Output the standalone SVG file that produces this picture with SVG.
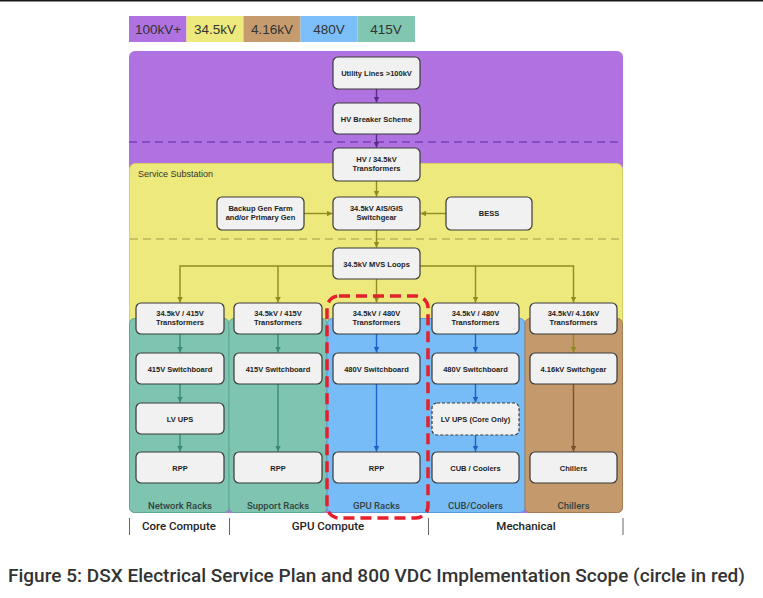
<svg xmlns="http://www.w3.org/2000/svg" width="763" height="598" viewBox="0 0 763 598">
<style>
.node rect{fill:#f1f1f1;stroke:#3a3a3a;stroke-width:1.2}
.node text{font-family:"Liberation Sans",Arial,sans-serif;font-weight:bold;font-size:7.5px;fill:#222;text-anchor:middle}
.leg{font-family:"Liberation Sans",Arial,sans-serif;font-size:13.5px;fill:#333;text-anchor:middle}
.col{font-family:Roboto,"Liberation Sans",Arial,sans-serif;font-weight:500;font-size:9.5px;fill:#33423f;text-anchor:middle}
.grp{font-family:Roboto,"Liberation Sans",Arial,sans-serif;font-size:11.5px;font-weight:500;fill:#222;text-anchor:middle}
.c{fill:none;stroke-width:1.4}
.p{stroke:#5b2a86}.y{stroke:#8f8c20}.g{stroke:#3a8c72}.b{stroke:#1c63c8}.br{stroke:#7a5030}
</style>
<defs>
<marker id="ap" viewBox="0 0 10 10" refX="10" refY="5" markerWidth="4" markerHeight="4" orient="auto"><path d="M0,0L10,5L0,10z" fill="#5b2a86"/></marker>
<marker id="ay" viewBox="0 0 10 10" refX="10" refY="5" markerWidth="4" markerHeight="4" orient="auto"><path d="M0,0L10,5L0,10z" fill="#8f8c20"/></marker>
<marker id="ag" viewBox="0 0 10 10" refX="10" refY="5" markerWidth="4" markerHeight="4" orient="auto"><path d="M0,0L10,5L0,10z" fill="#3a8c72"/></marker>
<marker id="ab" viewBox="0 0 10 10" refX="10" refY="5" markerWidth="4" markerHeight="4" orient="auto"><path d="M0,0L10,5L0,10z" fill="#1c63c8"/></marker>
<marker id="abr" viewBox="0 0 10 10" refX="10" refY="5" markerWidth="4" markerHeight="4" orient="auto"><path d="M0,0L10,5L0,10z" fill="#7a5030"/></marker>
</defs>
<rect width="763" height="598" fill="#fff"/>
<line x1="0" y1="0.8" x2="763" y2="0.8" stroke="#1a1a1a" stroke-width="1.6"/>

<g id="legend">
<rect x="129" y="16" width="57.5" height="26" fill="#b072e0"/>
<rect x="186.5" y="16" width="57" height="26" fill="#ede97c"/>
<rect x="243.5" y="16" width="57" height="26" fill="#c69c6e"/>
<rect x="300.5" y="16" width="57" height="26" fill="#7cbff8"/>
<rect x="357.5" y="16" width="57.5" height="26" fill="#80c6b0"/>
<text class="leg" x="158" y="34">100kV+</text>
<text class="leg" x="215" y="34">34.5kV</text>
<text class="leg" x="272" y="34">4.16kV</text>
<text class="leg" x="329" y="34">480V</text>
<text class="leg" x="386" y="34">415V</text>
</g>

<g id="regions">
<rect x="129" y="51" width="494" height="462" rx="6" fill="#b072e0"/>
<line x1="129" y1="142" x2="623" y2="142" stroke="#7b3fc0" stroke-width="1.5" stroke-dasharray="8 5"/>
<rect x="129.5" y="163.5" width="493" height="170" rx="6" fill="#ede97c" stroke="#d8d266" stroke-width="1"/>
<text x="138" y="177" font-family="Liberation Sans,Arial,sans-serif" font-size="9px" fill="#333">Service Substation</text>
<line x1="130" y1="239" x2="622" y2="239" stroke="#bdb55a" stroke-width="1.3" stroke-dasharray="8 5"/>
<rect x="129.5" y="318.5" width="99.5" height="194" rx="5" fill="#7fc4b0" stroke="#5fa894" stroke-width="1"/>
<rect x="229" y="318.5" width="98" height="194" rx="5" fill="#7fc4b0" stroke="#5fa894" stroke-width="1"/>
<rect x="327" y="318.5" width="198" height="194" rx="5" fill="#77bcf7" stroke="#5a9ad8" stroke-width="1"/>
<rect x="525" y="318.5" width="97.5" height="194" rx="5" fill="#c49a6c" stroke="#a87c50" stroke-width="1"/>
<text class="col" x="180" y="509">Network Racks</text>
<text class="col" x="278" y="509">Support Racks</text>
<text class="col" x="376.5" y="509">GPU Racks</text>
<text class="col" x="475.5" y="509">CUB/Coolers</text>
<text class="col" x="573.5" y="509">Chillers</text>
</g>

<g id="connectors">
<line class="c p" x1="376.5" y1="89" x2="376.5" y2="102.5" marker-end="url(#ap)"/>
<line class="c p" x1="376.5" y1="134" x2="376.5" y2="147.5" marker-end="url(#ap)"/>
<line class="c y" x1="376.5" y1="181" x2="376.5" y2="196.5" marker-end="url(#ay)"/>
<line class="c y" x1="304" y1="213.5" x2="332.5" y2="213.5" marker-end="url(#ay)"/>
<line class="c y" x1="446" y1="213.5" x2="420.5" y2="213.5" marker-end="url(#ay)"/>
<line class="c y" x1="376.5" y1="230" x2="376.5" y2="247.5" marker-end="url(#ay)"/>
<polyline class="c y" points="333,266 180,266 180,302.5" marker-end="url(#ay)"/>
<line class="c y" x1="278" y1="266" x2="278" y2="302.5" marker-end="url(#ay)"/>
<line class="c y" x1="376.5" y1="279" x2="376.5" y2="302.5" marker-end="url(#ay)"/>
<polyline class="c y" points="420,266 573.5,266 573.5,302.5" marker-end="url(#ay)"/>
<line class="c y" x1="475.5" y1="266" x2="475.5" y2="302.5" marker-end="url(#ay)"/>
<line class="c g" x1="180" y1="334" x2="180" y2="352.5" marker-end="url(#ag)"/>
<line class="c g" x1="180" y1="384" x2="180" y2="402.5" marker-end="url(#ag)"/>
<line class="c g" x1="180" y1="434" x2="180" y2="451.5" marker-end="url(#ag)"/>
<line class="c g" x1="278" y1="334" x2="278" y2="352.5" marker-end="url(#ag)"/>
<line class="c g" x1="278" y1="384" x2="278" y2="451.5" marker-end="url(#ag)"/>
<line class="c b" x1="376.5" y1="334" x2="376.5" y2="352.5" marker-end="url(#ab)"/>
<line class="c b" x1="376.5" y1="384" x2="376.5" y2="451.5" marker-end="url(#ab)"/>
<line class="c b" x1="475.5" y1="334" x2="475.5" y2="352.5" marker-end="url(#ab)"/>
<line class="c b" x1="475.5" y1="384" x2="475.5" y2="402.5" marker-end="url(#ab)"/>
<line class="c b" x1="475.5" y1="435" x2="475.5" y2="451.5" marker-end="url(#ab)"/>
<line class="c y" x1="573.5" y1="334" x2="573.5" y2="352.5" marker-end="url(#ay)"/>
<line class="c br" x1="573.5" y1="384" x2="573.5" y2="451.5" marker-end="url(#abr)"/>
</g>

<g id="n-utility" class="node"><rect x="333" y="57" width="87" height="32" rx="5"/><text x="376.5" y="76">Utility Lines &gt;100kV</text></g>
<g id="n-breaker" class="node"><rect x="333" y="103" width="87" height="31" rx="5"/><text x="376.5" y="121.5">HV Breaker Scheme</text></g>
<g id="n-hvtx" class="node"><rect x="333" y="148" width="87" height="33" rx="5"/><text x="376.5" y="162">HV / 34.5kV</text><text x="376.5" y="171">Transformers</text></g>
<g id="n-backup" class="node"><rect x="217" y="197" width="87" height="33" rx="5"/><text x="260.5" y="211">Backup Gen Farm</text><text x="260.5" y="220">and/or Primary Gen</text></g>
<g id="n-ais" class="node"><rect x="333" y="197" width="87" height="33" rx="5"/><text x="376.5" y="211">34.5kV AIS/GIS</text><text x="376.5" y="220">Switchgear</text></g>
<g id="n-bess" class="node"><rect x="446" y="197" width="86" height="33" rx="5"/><text x="489" y="216">BESS</text></g>
<g id="n-mvs" class="node"><rect x="333" y="248" width="87" height="31" rx="5"/><text x="376.5" y="266.5">34.5kV MVS Loops</text></g>

<g id="n-tx1" class="node"><rect x="136" y="303" width="88" height="31" rx="5"/><text x="180" y="316">34.5kV / 415V</text><text x="180" y="325">Transformers</text></g>
<g id="n-tx2" class="node"><rect x="234" y="303" width="88" height="31" rx="5"/><text x="278" y="316">34.5kV / 415V</text><text x="278" y="325">Transformers</text></g>
<g id="n-tx3" class="node"><rect x="333" y="303" width="87" height="31" rx="5"/><text x="376.5" y="316">34.5kV / 480V</text><text x="376.5" y="325">Transformers</text></g>
<g id="n-tx4" class="node"><rect x="432" y="303" width="87" height="31" rx="5"/><text x="475.5" y="316">34.5kV / 480V</text><text x="475.5" y="325">Transformers</text></g>
<g id="n-tx5" class="node"><rect x="530" y="303" width="87" height="31" rx="5"/><text x="573.5" y="316">34.5kV/ 4.16kV</text><text x="573.5" y="325">Transformers</text></g>

<g id="n-sb1" class="node"><rect x="136" y="353" width="88" height="31" rx="5"/><text x="180" y="371.5">415V Switchboard</text></g>
<g id="n-sb2" class="node"><rect x="234" y="353" width="88" height="31" rx="5"/><text x="278" y="371.5">415V Switchboard</text></g>
<g id="n-sb3" class="node"><rect x="333" y="353" width="87" height="31" rx="5"/><text x="376.5" y="371.5">480V Switchboard</text></g>
<g id="n-sb4" class="node"><rect x="432" y="353" width="87" height="31" rx="5"/><text x="475.5" y="371.5">480V Switchboard</text></g>
<g id="n-sg5" class="node"><rect x="530" y="353" width="87" height="31" rx="5"/><text x="573.5" y="371.5">4.16kV Switchgear</text></g>

<g id="n-ups1" class="node"><rect x="136" y="403" width="88" height="31" rx="5"/><text x="180" y="421.5">LV UPS</text></g>
<g id="n-ups4" class="node"><rect x="432" y="403" width="87" height="32" rx="5" stroke-dasharray="3 2"/><text x="475.5" y="422">LV UPS (Core Only)</text></g>

<g id="n-rpp1" class="node"><rect x="136" y="452" width="88" height="31" rx="5"/><text x="180" y="470.5">RPP</text></g>
<g id="n-rpp2" class="node"><rect x="234" y="452" width="88" height="31" rx="5"/><text x="278" y="470.5">RPP</text></g>
<g id="n-rpp3" class="node"><rect x="333" y="452" width="87" height="31" rx="5"/><text x="376.5" y="470.5">RPP</text></g>
<g id="n-cub" class="node"><rect x="432" y="452" width="87" height="31" rx="5"/><text x="475.5" y="470.5">CUB / Coolers</text></g>
<g id="n-chill" class="node"><rect x="530" y="452" width="87" height="31" rx="5"/><text x="573.5" y="470.5">Chillers</text></g>

<g id="scope">
<rect x="327" y="296" width="101" height="222" rx="12" fill="none" stroke="#e3202b" stroke-width="3.5" stroke-dasharray="11 6"/>
</g>

<g id="groups">
<line x1="129.5" y1="518" x2="129.5" y2="535" stroke="#666" stroke-width="1"/>
<line x1="229.5" y1="518" x2="229.5" y2="535" stroke="#666" stroke-width="1"/>
<line x1="428.5" y1="518" x2="428.5" y2="535" stroke="#666" stroke-width="1"/>
<line x1="623" y1="518" x2="623" y2="535" stroke="#666" stroke-width="1"/>
<text class="grp" x="179" y="530">Core Compute</text>
<text class="grp" x="328" y="530">GPU Compute</text>
<text class="grp" x="526" y="530">Mechanical</text>
</g>

<text x="8" y="582" font-family="Roboto,Liberation Sans,Arial,sans-serif" font-size="17.5px" font-weight="500" fill="#333" textLength="737" lengthAdjust="spacingAndGlyphs">Figure 5: DSX Electrical Service Plan and 800 VDC Implementation Scope (circle in red)</text>
</svg>
